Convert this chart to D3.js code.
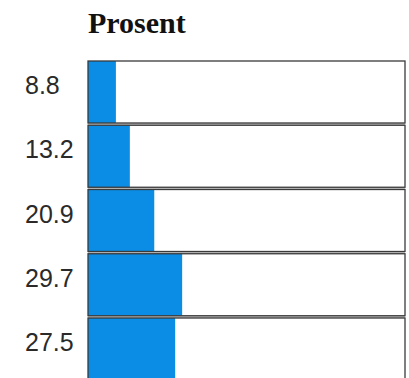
<!DOCTYPE html>
<html lang="en">
<head>
  <meta charset="UTF-8">
  <title>Prosent</title>
  <script src="https://cdn.jsdelivr.net/npm/d3@7"></script>
</head>
<body>
<style>
  * {
    padding: 0;
    margin: 0;
  }

  body {
    background: #fff;
  }

  #app {
    width: 409px;
    height: 378px;
    overflow: hidden;
  }
</style>

<div id="app"></div>

<script>
  // values (percent)
  let values = [8.8, 13.2, 20.9, 29.7, 27.5];
  let rows = ["r1", "r2", "r3", "r4", "r5"];
  let title = "Prosent";

  let $width = 409, $height = 378;

  var svg = d3.select("#app").append("svg").attr("width", $width).attr("height", $height)

  var x = d3.scaleLinear().domain([0, 100]).range([88, 405])
  var y = d3.scaleBand().domain(rows).range([61, 380]).paddingInner(0.035)

  svg.append("text").text(title)
    .attr("x", 88).attr("y", 33)
    .attr("font-family", "Liberation Serif, Times New Roman, serif")
    .attr("font-weight", "bold").attr("font-size", "30px").attr("fill", "#111")

  // light gray gap strips between boxes
  svg.selectAll("rect.gap").data(rows.slice(1)).enter().append("rect")
    .attr("class", "gap")
    .attr("x", x(0)).attr("width", x(100) - x(0))
    .attr("y", function (d) { return y(d) - y.step() * y.paddingInner() })
    .attr("height", y.step() * y.paddingInner())
    .attr("fill", "#c4c4c4")

  // bars
  svg.selectAll("rect.bar").data(values).enter().append("rect")
    .attr("class", "bar")
    .attr("x", x(0))
    .attr("y", function (d, i) { return y(rows[i]) })
    .attr("width", function (d) { return x(d) - x(0) })
    .attr("height", y.bandwidth())
    .attr("fill", "#0b8de6")

  // box outlines
  svg.selectAll("rect.box").data(rows).enter().append("rect")
    .attr("class", "box")
    .attr("x", x(0)).attr("width", x(100) - x(0))
    .attr("y", function (d) { return y(d) })
    .attr("height", y.bandwidth())
    .attr("fill", "none").attr("stroke", "#3a3a3a").attr("stroke-width", 1.3)

  // value labels
  svg.selectAll("text.lab").data(values).enter().append("text")
    .attr("class", "lab")
    .text(function (d) { return d3.format(".1f")(d) })
    .attr("x", 25)
    .attr("y", function (d, i) { return y(rows[i]) + y.bandwidth() / 2 + 2 })
    .attr("font-family", "Liberation Sans, Arial, sans-serif")
    .attr("font-size", "25px").attr("fill", "#2a2a2a")
</script>
</body>
</html>
